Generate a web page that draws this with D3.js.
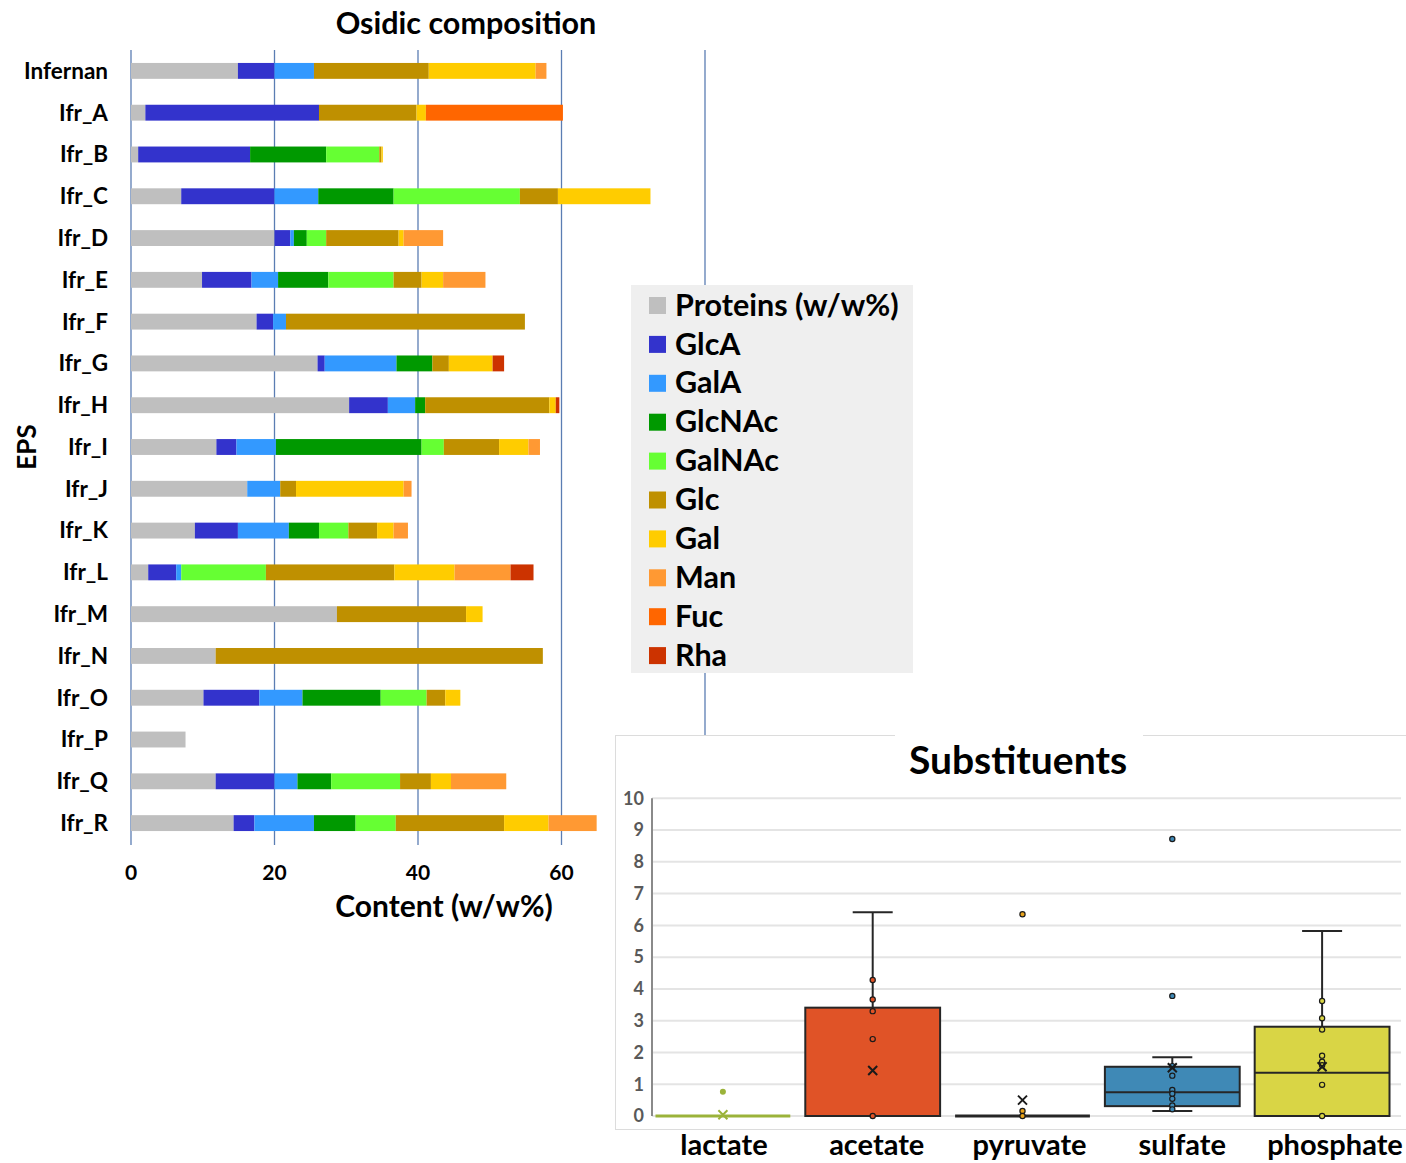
<!DOCTYPE html>
<html><head><meta charset="utf-8">
<script src="https://cdn.jsdelivr.net/npm/d3@7"></script>
<style>body{margin:0;background:#fff}svg{display:block;font-family:Lato,"Open Sans",sans-serif}</style>
</head><body><svg id="c" width="1406" height="1163"></svg>
<script>
// ---------- Osidic composition data ----------
const categories = ["Infernan","Ifr_A","Ifr_B","Ifr_C","Ifr_D","Ifr_E","Ifr_F","Ifr_G","Ifr_H","Ifr_I","Ifr_J","Ifr_K","Ifr_L","Ifr_M","Ifr_N","Ifr_O","Ifr_P","Ifr_Q","Ifr_R"];
const sugars = ["Proteins (w/w%)","GlcA","GalA","GlcNAc","GalNAc","Glc","Gal","Man","Fuc","Rha"];
const proteins = [14.9, 2.0, 1.0, 7.0, 20.0, 9.9, 17.5, 26.0, 30.4, 11.9, 16.2, 8.9, 2.4, 28.7, 11.8, 10.1, 7.6, 11.8, 14.3];
const glcA     = [5.1, 24.2, 15.6, 13.0, 2.2, 6.9, 2.3, 1.0, 5.4, 2.8, 0, 6.0, 3.9, 0, 0, 7.8, 0, 8.2, 2.9];
const galA     = [5.5, 0, 0, 6.1, 0.5, 3.7, 1.8, 10.0, 3.8, 5.5, 4.6, 7.1, 0.7, 0, 0, 6.0, 0, 3.2, 8.3];
const glcNAc   = [0, 0, 10.6, 10.5, 1.8, 7.0, 0, 5.0, 1.4, 20.3, 0, 4.2, 0, 0, 0, 10.9, 0, 4.7, 5.8];
const galNAc   = [0, 0, 7.4, 17.6, 2.7, 9.1, 0, 0, 0, 3.1, 0, 4.1, 11.8, 0, 0, 6.4, 0, 9.6, 5.6];
const glc      = [16.0, 13.6, 0.3, 5.3, 10.1, 3.9, 33.3, 2.3, 17.3, 7.7, 2.2, 4.0, 17.9, 18.0, 45.6, 2.6, 0, 4.3, 15.1];
const gal      = [14.9, 1.3, 0.2, 12.9, 0.7, 3.0, 0, 6.1, 0.9, 4.1, 15.0, 2.3, 8.4, 2.3, 0, 2.1, 0, 2.8, 6.2];
const man      = [1.5, 0, 0, 0, 5.5, 5.9, 0, 0, 0, 1.6, 1.1, 2.0, 7.8, 0, 0, 0, 0, 7.7, 6.7];
const fuc      = [0, 19.1, 0, 0, 0, 0, 0, 0, 0, 0, 0, 0, 0, 0, 0, 0, 0, 0, 0];
const rha      = [0, 0, 0, 0, 0, 0, 0, 1.6, 0.5, 0, 0, 0, 3.2, 0, 0, 0, 0, 0, 0];
const sugarColors = ["#bfbfbf","#3333cc","#3399ff","#009900","#66ff33","#bf9000","#ffcc00","#ff9933","#ff6600","#cc3300"];
const xTicks = [0, 20, 40, 60, 80];

// ---------- Substituents data ----------
const subCategories = ["lactate","acetate","pyruvate","sulfate","phosphate"];
const subColors   = ["#9bb33a","#e05327","#e8a31c","#3f89b6","#d9d545"];
const q1          = [0, 0, 0, 0.31, 0];
const medians     = [0, 0, 0, 0.75, 1.36];
const q3          = [0, 3.41, 0, 1.55, 2.81];
const whiskerLow  = [0, 0, 0, 0.16, 0];
const whiskerHigh = [0, 6.41, 0, 1.85, 5.82];
const means       = [0.04, 1.43, 0.5, 1.52, 1.55];
const points = [
  [0.76],
  [4.28, 3.67, 3.3, 2.42, 0],
  [6.35, 0.16, 0],
  [8.72, 3.78, 1.57, 1.27, 0.82, 0.7, 0.54, 0.33, 0.21],
  [3.62, 3.08, 2.72, 1.9, 1.71, 1.6, 0.98, 0]
];
const yTicksSub = [0,1,2,3,4,5,6,7,8,9,10];

const svg = d3.select("#c");
const seriesArrays = [proteins, glcA, galA, glcNAc, galNAc, glc, gal, man, fuc, rha];
const rows = categories.map((c, i) => {
  const r = {cat: c};
  sugars.forEach((s, k) => r[s] = seriesArrays[k][i]);
  return r;
});

// ---------- bar chart ----------
const x = d3.scaleLinear().domain([0, 80]).range([131, 705]);
const y = d3.scaleBand().domain(categories).range([50, 844]).paddingInner(0.62).paddingOuter(0.31);
const color = d3.scaleOrdinal().domain(sugars).range(sugarColors);

svg.append("g").selectAll("line").data(xTicks).join("line")
  .attr("x1", d => x(d)).attr("x2", d => x(d)).attr("y1", 50).attr("y2", 845)
  .attr("stroke", "#5b7db3").attr("stroke-width", 1.3);

const stack = d3.stack().keys(sugars)(rows);
svg.append("g").selectAll("g").data(stack).join("g").attr("fill", d => color(d.key))
  .selectAll("rect").data(d => d).join("rect")
  .attr("x", d => x(d[0])).attr("width", d => x(d[1]) - x(d[0]))
  .attr("y", d => y(d.data.cat)).attr("height", y.bandwidth());

svg.append("g").selectAll("text").data(categories).join("text")
  .attr("x", 108).attr("y", d => y(d) + y.bandwidth() / 2).attr("dy", "0.35em")
  .attr("text-anchor", "end").attr("font-weight", "bold").attr("font-size", 22.5).text(d => d);

svg.append("g").selectAll("text").data(xTicks).join("text")
  .attr("x", d => x(d)).attr("y", 873).attr("dy", "0.35em").attr("text-anchor", "middle")
  .attr("font-weight", "bold").attr("font-size", 21).text(d => d);

svg.append("text").attr("x", 466).attr("y", 23).attr("dy", "0.35em").attr("text-anchor", "middle")
  .attr("font-weight", "bold").attr("font-size", 30.5).text("Osidic composition");
svg.append("text").attr("x", 444).attr("y", 906).attr("dy", "0.35em").attr("text-anchor", "middle")
  .attr("font-weight", "bold").attr("font-size", 30).text("Content (w/w%)");
svg.append("text").attr("transform", "translate(27,447) rotate(-90)").attr("dy", "0.35em")
  .attr("text-anchor", "middle").attr("font-weight", "bold").attr("font-size", 26).text("EPS");

// legend
const lg = svg.append("g");
lg.append("rect").attr("x", 631).attr("y", 285).attr("width", 282).attr("height", 388).attr("fill", "#efefef");
const li = lg.selectAll("g").data(sugars).join("g")
  .attr("transform", (d, i) => `translate(649,${305 + i * 38.9})`);
li.append("rect").attr("x", 0).attr("y", -8).attr("width", 17).attr("height", 17).attr("fill", d => color(d));
li.append("text").attr("x", 26).attr("dy", "0.35em").attr("font-weight", "bold").attr("font-size", 30.5).text(d => d);

// ---------- box plot panel ----------
const bp = svg.append("g");
bp.append("rect").attr("x", 615.5).attr("y", 735.5).attr("width", 800).attr("height", 394)
  .attr("fill", "#fff").attr("stroke", "#dcdcdc").attr("stroke-width", 1);
bp.append("rect").attr("x", 895).attr("y", 728).attr("width", 248).attr("height", 50).attr("fill", "#fff");
bp.append("text").attr("x", 1018).attr("y", 760).attr("dy", "0.35em").attr("text-anchor", "middle")
  .attr("font-weight", "bold").attr("font-size", 39).text("Substituents");

const xb = d3.scaleBand().domain(subCategories).range([648, 1397]).paddingInner(0.1).paddingOuter(0.05);
const xl = d3.scalePoint().domain(subCategories).range([724, 1335]);
const yb = d3.scaleLinear().domain([0, 10]).range([1116, 798.3]);
const cb = d3.scaleOrdinal().domain(subCategories).range(subColors);

bp.append("g").selectAll("line").data(yTicksSub).join("line")
  .attr("x1", 652).attr("x2", 1401).attr("y1", d => yb(d)).attr("y2", d => yb(d))
  .attr("stroke", "#e4e4e4").attr("stroke-width", 2);
bp.append("line").attr("x1", 652).attr("x2", 652).attr("y1", yb(10)).attr("y2", yb(0))
  .attr("stroke", "#8a8a8a").attr("stroke-width", 2);
bp.append("g").selectAll("text").data(yTicksSub).join("text")
  .attr("x", 644).attr("y", d => yb(d)).attr("dy", "0.35em").attr("text-anchor", "end")
  .attr("fill", "#595959").attr("font-weight", "bold").attr("font-size", 18).text(d => d);

const boxes = subCategories.map((c, i) => ({c, i, q1: q1[i], med: medians[i], q3: q3[i],
  lo: whiskerLow[i], hi: whiskerHigh[i], mean: means[i], pts: points[i]}));
const bg = bp.append("g").selectAll("g").data(boxes).join("g");
const cx = d => xb(d.c) + xb.bandwidth() / 2;
bg.each(function(d) {
  const g = d3.select(this), m = cx(d);
  if (d.hi > d.q3) {
    g.append("line").attr("x1", m).attr("x2", m).attr("y1", yb(d.q3)).attr("y2", yb(d.hi)).attr("stroke", "#262626").attr("stroke-width", 2);
    g.append("line").attr("x1", m - 20).attr("x2", m + 20).attr("y1", yb(d.hi)).attr("y2", yb(d.hi)).attr("stroke", "#262626").attr("stroke-width", 2);
  }
  if (d.lo < d.q1) {
    g.append("line").attr("x1", m).attr("x2", m).attr("y1", yb(d.q1)).attr("y2", yb(d.lo)).attr("stroke", "#262626").attr("stroke-width", 2);
    g.append("line").attr("x1", m - 20).attr("x2", m + 20).attr("y1", yb(d.lo)).attr("y2", yb(d.lo)).attr("stroke", "#262626").attr("stroke-width", 2);
  }
  const isFlat = d.q3 === d.q1;
  g.append("rect").attr("x", xb(d.c)).attr("width", xb.bandwidth())
    .attr("y", yb(d.q3) - (isFlat ? 1.5 : 0)).attr("height", Math.max(3, yb(d.q1) - yb(d.q3)))
    .attr("fill", isFlat ? (d.c === "lactate" ? cb(d.c) : "#262626") : cb(d.c))
    .attr("stroke", isFlat ? "none" : "#262626").attr("stroke-width", 2);
  if (!isFlat && d.med > d.q1)
    g.append("line").attr("x1", xb(d.c)).attr("x2", xb(d.c) + xb.bandwidth()).attr("y1", yb(d.med)).attr("y2", yb(d.med))
      .attr("stroke", "#262626").attr("stroke-width", 2);
  d.pts.forEach(v => {
    if (d.c === "lactate")
      g.append("circle").attr("cx", m).attr("cy", yb(v)).attr("r", 3).attr("fill", cb(d.c));
    else
      g.append("circle").attr("cx", m).attr("cy", yb(v)).attr("r", 2.6).attr("fill", cb(d.c)).attr("stroke", "#1a1a1a").attr("stroke-width", 1.2);
  });
  const mc = d.c === "lactate" ? cb(d.c) : "#1a1a1a";
  const s = 4.5, my = yb(d.mean);
  g.append("path").attr("d", `M${m - s},${my - s}L${m + s},${my + s}M${m - s},${my + s}L${m + s},${my - s}`)
    .attr("stroke", mc).attr("stroke-width", 2);
});

bp.append("g").selectAll("text").data(subCategories).join("text")
  .attr("x", d => xl(d)).attr("y", 1145).attr("dy", "0.35em").attr("text-anchor", "middle")
  .attr("font-weight", "bold").attr("font-size", 29).text(d => d);
</script></body></html>
